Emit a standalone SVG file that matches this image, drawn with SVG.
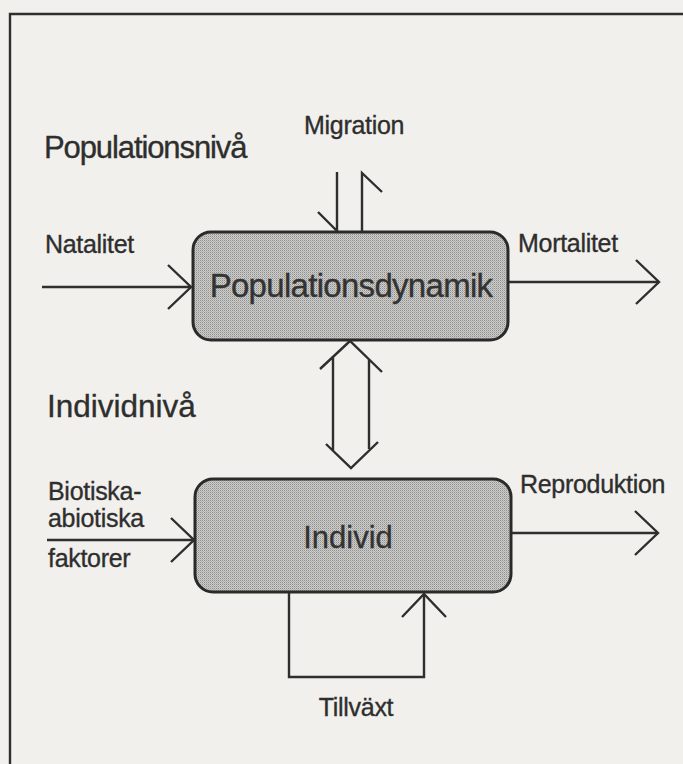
<svg xmlns="http://www.w3.org/2000/svg" width="683" height="764" viewBox="0 0 683 764">
  <defs>
    <pattern id="stipple" width="2" height="2" patternUnits="userSpaceOnUse">
      <rect width="2" height="2" fill="#cdcdcb"/>
      <rect x="0" y="0" width="1" height="1" fill="#8f8f8d"/>
      <rect x="1" y="1" width="1" height="1" fill="#b0b0ae"/>
    </pattern>
    <marker id="vhead" markerUnits="userSpaceOnUse" markerWidth="50" markerHeight="50" viewBox="-30 -25 34 50" refX="0" refY="0" orient="auto">
      <path d="M-23,-22 L0,0 L-23,22" fill="none" stroke="#2e2e2e" stroke-width="2.4"/>
    </marker>
  </defs>
  <style>
    .lbl { font-family: "Liberation Sans", Arial, sans-serif; font-size: 25px; letter-spacing: -0.3px; fill: #2e2e2e; stroke: #2e2e2e; stroke-width: 0.35; }
    .head { font-family: "Liberation Sans", Arial, sans-serif; fill: #2e2e2e; stroke: #2e2e2e; stroke-width: 0.35; }
    .node-text { font-family: "Liberation Sans", Arial, sans-serif; fill: #333333; stroke: #333333; stroke-width: 0.35; text-anchor: middle; }
    .box { fill: url(#stipple); stroke: #2a2a2a; stroke-width: 3; }
    .ln { fill: none; stroke: #2e2e2e; stroke-width: 2.4; }
  </style>
  <rect width="683" height="764" fill="#f1f0ec"/>
  <path d="M10,764 V14 H683" fill="none" stroke="#2e2e2e" stroke-width="2.4"/>

  <g id="labels">
    <text class="head" x="44" y="158" font-size="31" letter-spacing="-1.1">Populationsnivå</text>
    <text class="lbl" x="304" y="134">Migration</text>
    <text class="lbl" x="45" y="253">Natalitet</text>
    <text class="lbl" x="518" y="252">Mortalitet</text>
    <text class="head" x="47" y="417" font-size="31.5">Individnivå</text>
    <text class="lbl" x="48" y="500">Biotiska-</text>
    <text class="lbl" x="48" y="527">abiotiska</text>
    <text class="lbl" x="48" y="567">faktorer</text>
    <text class="lbl" x="520" y="493">Reproduktion</text>
    <text class="lbl" x="356" y="716" text-anchor="middle">Tillväxt</text>
  </g>

  <g id="populationsdynamik">
    <rect class="box" x="193" y="232" width="315" height="108" rx="18" ry="18"/>
    <text class="node-text" x="351" y="297" font-size="33" letter-spacing="-0.7">Populationsdynamik</text>
  </g>

  <g id="individ">
    <rect class="box" x="195" y="479" width="316" height="113" rx="18" ry="18"/>
    <text class="node-text" x="348" y="548" font-size="31">Individ</text>
  </g>

  <g id="connectors">
    <line class="ln" x1="42" y1="287" x2="191" y2="287" marker-end="url(#vhead)"/>
    <line class="ln" x1="509" y1="282" x2="659" y2="282" marker-end="url(#vhead)"/>
    <path class="ln" d="M337,172 V231 M318,212 L337,231"/>
    <path class="ln" d="M362,231 V173 L382,192"/>
    <path class="ln" d="M320,369 L350,341 L382,372 M333,356 V451 M369,359 V449 M326,444 L351,468 L378,442"/>
    <line class="ln" x1="47" y1="540" x2="194" y2="540" marker-end="url(#vhead)"/>
    <line class="ln" x1="512" y1="533" x2="658" y2="533" marker-end="url(#vhead)"/>
    <path class="ln" d="M289,593 V677 H424 V594" marker-end="url(#vhead)"/>
  </g>
</svg>
